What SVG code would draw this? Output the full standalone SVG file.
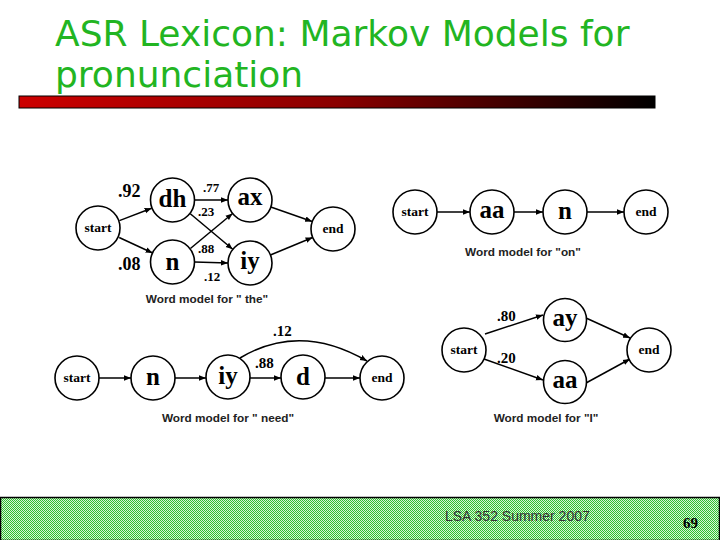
<svg xmlns="http://www.w3.org/2000/svg" width="720" height="540" viewBox="0 0 720 540">
<style>
.title{font-family:"DejaVu Sans",Verdana,sans-serif;font-size:36px;fill:#22b522}
.nd circle{fill:#fff;stroke:#000;stroke-width:1.6}
.ph{font-family:"Liberation Serif",serif;font-weight:bold;font-size:25px;text-anchor:middle;fill:#000}
.se{font-family:"Liberation Serif",serif;font-weight:bold;font-size:13.5px;text-anchor:middle;fill:#000}
.pr{font-family:"Liberation Serif",serif;font-weight:bold;font-size:13px;fill:#000}
.pm{font-family:"Liberation Serif",serif;font-weight:bold;font-size:15px;fill:#000}
.prb{font-family:"Liberation Serif",serif;font-weight:bold;font-size:18px;fill:#000}
.cap{font-family:"Liberation Sans",Arial,sans-serif;font-weight:bold;font-size:11.8px;text-anchor:middle;fill:#222}
.edges line,.edges path{stroke:#000;stroke-width:1.5;fill:none;marker-end:url(#ah)}
</style>
<defs>
<marker id="ah" viewBox="0 0 10 10" refX="10" refY="5" markerWidth="7" markerHeight="7" markerUnits="userSpaceOnUse" orient="auto">
<path d="M0,1 L10,5 L0,9 z" fill="#000"/>
</marker>
<linearGradient id="bar" x1="0" y1="0" x2="1" y2="0">
<stop offset="0" stop-color="#cc0000"/>
<stop offset="0.5" stop-color="#8a0000"/>
<stop offset="1" stop-color="#000"/>
</linearGradient>
<pattern id="chk" width="2" height="2" patternUnits="userSpaceOnUse">
<rect width="2" height="2" fill="#d8f5d8"/>
<rect width="1" height="1" fill="#2fbf2f"/>
<rect x="1" y="1" width="1" height="1" fill="#2fbf2f"/>
</pattern>
</defs>
<rect width="720" height="540" fill="#fff"/>
<text class="title" x="55" y="46">ASR Lexicon: Markov Models for</text>
<text class="title" x="55" y="87">pronunciation</text>
<rect x="19" y="96" width="636" height="12" fill="url(#bar)" stroke="#000" stroke-width="1"/>

<g class="edges">
<line x1="119.4" y1="220.6" x2="151.6" y2="208.2"/>
<line x1="119.2" y1="237.5" x2="152.6" y2="253"/>
<line x1="194.5" y1="200" x2="228" y2="200"/>
<line x1="194.5" y1="262" x2="228" y2="263"/>
<line x1="190.3" y1="213.7" x2="232.7" y2="249.3"/>
<line x1="190.4" y1="248.5" x2="232.6" y2="213.5"/>
<line x1="270.8" y1="207" x2="312.2" y2="221.5"/>
<line x1="270.4" y1="255" x2="312.6" y2="237.5"/>
<line x1="437" y1="212" x2="470" y2="212"/>
<line x1="514" y1="212" x2="543" y2="212"/>
<line x1="587" y1="212" x2="624" y2="212"/>
<line x1="99" y1="378" x2="131" y2="378"/>
<line x1="175" y1="378" x2="206" y2="378"/>
<line x1="250" y1="378" x2="281" y2="378"/>
<line x1="325" y1="378" x2="360" y2="378"/>
<path d="M240,358 Q300,322 367,361"/>
<line x1="485" y1="334" x2="543" y2="315"/>
<line x1="484" y1="359" x2="543" y2="380"/>
<line x1="586" y1="318" x2="630" y2="338"/>
<line x1="586" y1="383" x2="630" y2="359"/>
</g>

<g id="the-start" class="nd"><circle cx="98" cy="228" r="22"/><text class="se" x="98" y="232">start</text></g>
<g id="the-dh" class="nd"><circle cx="172.5" cy="200" r="22"/><text class="ph" x="172.5" y="207">dh</text></g>
<g id="the-n" class="nd"><circle cx="172.5" cy="262" r="22"/><text class="ph" x="172.5" y="270">n</text></g>
<g id="the-ax" class="nd"><circle cx="250" cy="200" r="22"/><text class="ph" x="250" y="205">ax</text></g>
<g id="the-iy" class="nd"><circle cx="250" cy="263" r="22"/><text class="ph" x="250" y="269">iy</text></g>
<g id="the-end" class="nd"><circle cx="333" cy="229" r="22"/><text class="se" x="333" y="233">end</text></g>
<g id="the-labels">
<text class="prb" x="118" y="197">.92</text>
<text class="prb" x="118" y="270">.08</text>
<text class="pr" x="203" y="192">.77</text>
<text class="pr" x="198" y="216">.23</text>
<text class="pr" x="198" y="253">.88</text>
<text class="pr" x="204" y="281">.12</text>
<text class="cap" x="207" y="303">Word model for " the"</text>
</g>

<g id="on-start" class="nd"><circle cx="415" cy="212" r="22"/><text class="se" x="415" y="216">start</text></g>
<g id="on-aa" class="nd"><circle cx="492" cy="212" r="22"/><text class="ph" x="492" y="218">aa</text></g>
<g id="on-n" class="nd"><circle cx="565" cy="212" r="22"/><text class="ph" x="565" y="219">n</text></g>
<g id="on-end" class="nd"><circle cx="646" cy="212" r="22"/><text class="se" x="646" y="216">end</text></g>
<g id="on-labels"><text class="cap" x="523" y="256">Word model for "on"</text></g>

<g id="need-start" class="nd"><circle cx="77" cy="378" r="22"/><text class="se" x="77" y="382">start</text></g>
<g id="need-n" class="nd"><circle cx="153" cy="378" r="22"/><text class="ph" x="153" y="385">n</text></g>
<g id="need-iy" class="nd"><circle cx="228" cy="377" r="22"/><text class="ph" x="228" y="384">iy</text></g>
<g id="need-d" class="nd"><circle cx="303" cy="377" r="22"/><text class="ph" x="303" y="385">d</text></g>
<g id="need-end" class="nd"><circle cx="382" cy="378" r="22"/><text class="se" x="382" y="382">end</text></g>
<g id="need-labels">
<text class="pm" x="273" y="336">.12</text>
<text class="pm" x="255" y="368">.88</text>
<text class="cap" x="228" y="422">Word model for " need"</text>
</g>

<g id="i-start" class="nd"><circle cx="464" cy="350" r="22"/><text class="se" x="464" y="354">start</text></g>
<g id="i-ay" class="nd"><circle cx="565" cy="320" r="21.5"/><text class="ph" x="565" y="326">ay</text></g>
<g id="i-aa" class="nd"><circle cx="565" cy="382" r="21.5"/><text class="ph" x="565" y="388">aa</text></g>
<g id="i-end" class="nd"><circle cx="649" cy="350" r="22"/><text class="se" x="649" y="354">end</text></g>
<g id="i-labels">
<text class="pm" x="497" y="321">.80</text>
<text class="pm" x="497" y="363">.20</text>
<text class="cap" x="546" y="422">Word model for "I"</text>
</g>

<g id="footer">
<rect x="0.5" y="497.5" width="719" height="43" fill="url(#chk)" stroke="#000" stroke-width="1.5"/>
<text x="445" y="521" style="font-family:'Liberation Sans',Arial,sans-serif;font-size:14px;fill:#333">LSA 352 Summer 2007</text>
<text x="683" y="528" style="font-family:'Liberation Serif',serif;font-weight:bold;font-size:15px;fill:#000">69</text>
</g>
</svg>
